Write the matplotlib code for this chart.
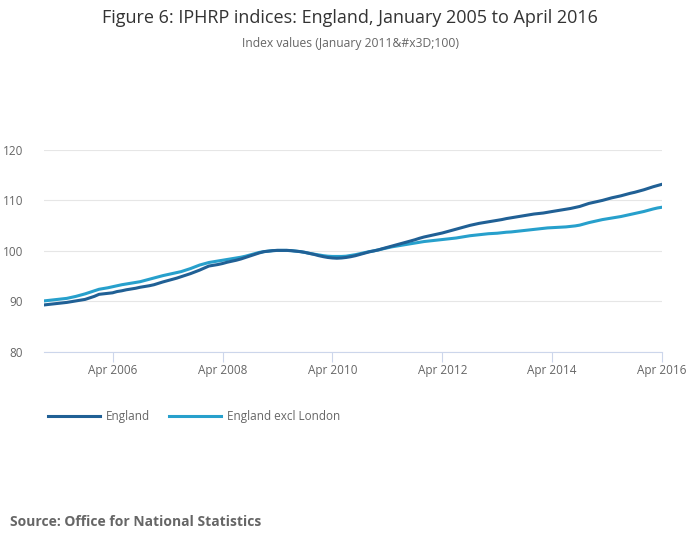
import pandas as pd
import matplotlib.pyplot as plt
import matplotlib.dates as mdates

plt.rcParams['font.family'] = ['Open Sans', 'DejaVu Sans']

months = pd.date_range('2005-01-01', '2016-04-01', freq='MS')

england = [
    89.3, 89.4, 89.5, 89.6, 89.7, 89.8, 89.95, 90.1, 90.25, 90.4, 90.7, 91.0,
    91.4, 91.5, 91.6, 91.7, 91.95, 92.1, 92.3, 92.45, 92.6, 92.8, 92.95, 93.1,
    93.3, 93.6, 93.85, 94.1, 94.35, 94.6, 94.9, 95.2, 95.5, 95.85, 96.2, 96.6,
    97.0, 97.15, 97.3, 97.5, 97.75, 97.95, 98.15, 98.4, 98.7, 99.0, 99.3, 99.6,
    99.85, 99.95, 100.05, 100.1, 100.1, 100.1, 100.05, 99.95, 99.85, 99.7, 99.5, 99.3,
    99.05, 98.85, 98.7, 98.6, 98.55, 98.6, 98.7, 98.85, 99.05, 99.3, 99.55, 99.8,
    100.0, 100.2, 100.45, 100.7, 100.95, 101.2, 101.45, 101.7, 101.95, 102.2, 102.5, 102.75,
    102.95, 103.15, 103.35, 103.55, 103.8, 104.05, 104.3, 104.55, 104.8, 105.05, 105.25, 105.45,
    105.6, 105.75, 105.9, 106.05, 106.2, 106.4, 106.55, 106.7, 106.85, 107.0, 107.15, 107.3,
    107.4, 107.5, 107.65, 107.8, 107.95, 108.1, 108.25, 108.4, 108.6, 108.8, 109.1, 109.4,
    109.6, 109.8, 110.0, 110.25, 110.5, 110.7, 110.9, 111.15, 111.4, 111.6, 111.85, 112.1,
    112.4, 112.7, 112.95, 113.2,
]

excl_london = [
    90.1, 90.2, 90.3, 90.4, 90.5, 90.6, 90.8, 91.0, 91.25, 91.5, 91.8, 92.1,
    92.4, 92.55, 92.7, 92.9, 93.1, 93.3, 93.45, 93.6, 93.75, 93.9, 94.15, 94.4,
    94.65, 94.9, 95.1, 95.3, 95.5, 95.7, 95.9, 96.2, 96.5, 96.85, 97.2, 97.45,
    97.7, 97.85, 98.0, 98.15, 98.3, 98.45, 98.6, 98.75, 98.95, 99.2, 99.45, 99.7,
    99.85, 99.95, 100.05, 100.1, 100.1, 100.1, 100.05, 99.95, 99.85, 99.7, 99.5, 99.35,
    99.2, 99.05, 98.95, 98.9, 98.9, 98.9, 98.95, 99.1, 99.25, 99.45, 99.65, 99.85,
    100.0, 100.2, 100.4, 100.6, 100.8, 100.95, 101.1, 101.25, 101.4, 101.55, 101.7, 101.85,
    101.95, 102.05, 102.15, 102.25, 102.35, 102.45, 102.55, 102.7, 102.85, 103.0, 103.1, 103.2,
    103.3, 103.4, 103.45, 103.5, 103.6, 103.7, 103.75, 103.85, 103.95, 104.05, 104.15, 104.25,
    104.35, 104.45, 104.55, 104.6, 104.65, 104.7, 104.75, 104.85, 104.95, 105.1, 105.35, 105.6,
    105.8, 106.0, 106.2, 106.35, 106.5, 106.65, 106.8, 107.0, 107.2, 107.4, 107.6, 107.8,
    108.05, 108.3, 108.5, 108.65,
]

tick_dates = pd.to_datetime(['2006-04-01', '2008-04-01', '2010-04-01',
                             '2012-04-01', '2014-04-01', '2016-04-01'])
y_ticks = [80, 90, 100, 110, 120]

fig = plt.figure(figsize=(7, 5.49), dpi=100)
ax = fig.add_axes([0.063, 0.359, 0.883, 0.368])

ax.plot(months, england, color='#206095', lw=2.2, label='England', zorder=3)
ax.plot(months, excl_london, color='#27a0cc', lw=2.2, label='England excl London', zorder=2)

ax.set_ylim(80, 120)
ax.set_xlim(months[0], months[-1])
ax.set_yticks(y_ticks)
ax.set_xticks(tick_dates)
ax.xaxis.set_major_formatter(mdates.DateFormatter('%b %Y'))

ax.grid(axis='y', color='#e6e6e6', lw=0.8)
ax.set_axisbelow(True)
for s in ['top', 'right', 'left']:
    ax.spines[s].set_visible(False)
ax.spines['bottom'].set_color('#ccd6eb')
ax.tick_params(axis='y', length=0, pad=15, labelsize=8.5, labelcolor='#666666')
ax.tick_params(axis='x', length=7, color='#ccd6eb', pad=2, labelsize=8.5, labelcolor='#666666')

fig.text(0.5, 0.967, 'Figure 6: IPHRP indices: England, January 2005 to April 2016',
         ha='center', va='center', fontsize=13, color='#333333')
fig.text(0.5, 0.921, 'Index values (January 2011&#x3D;100)',
         ha='center', va='center', fontsize=8.7, color='#666666')

fig.legend(loc='center left', bbox_to_anchor=(0.054, 0.242), ncol=2, frameon=False,
           fontsize=8.5, labelcolor='#666666', handlelength=4.4, columnspacing=1.6,
           handletextpad=0.5)

fig.text(0.014, 0.05, 'Source: Office for National Statistics', ha='left', va='center',
         fontsize=10, fontweight='bold', color='#666666')

fig.savefig('out.png', dpi=100)
